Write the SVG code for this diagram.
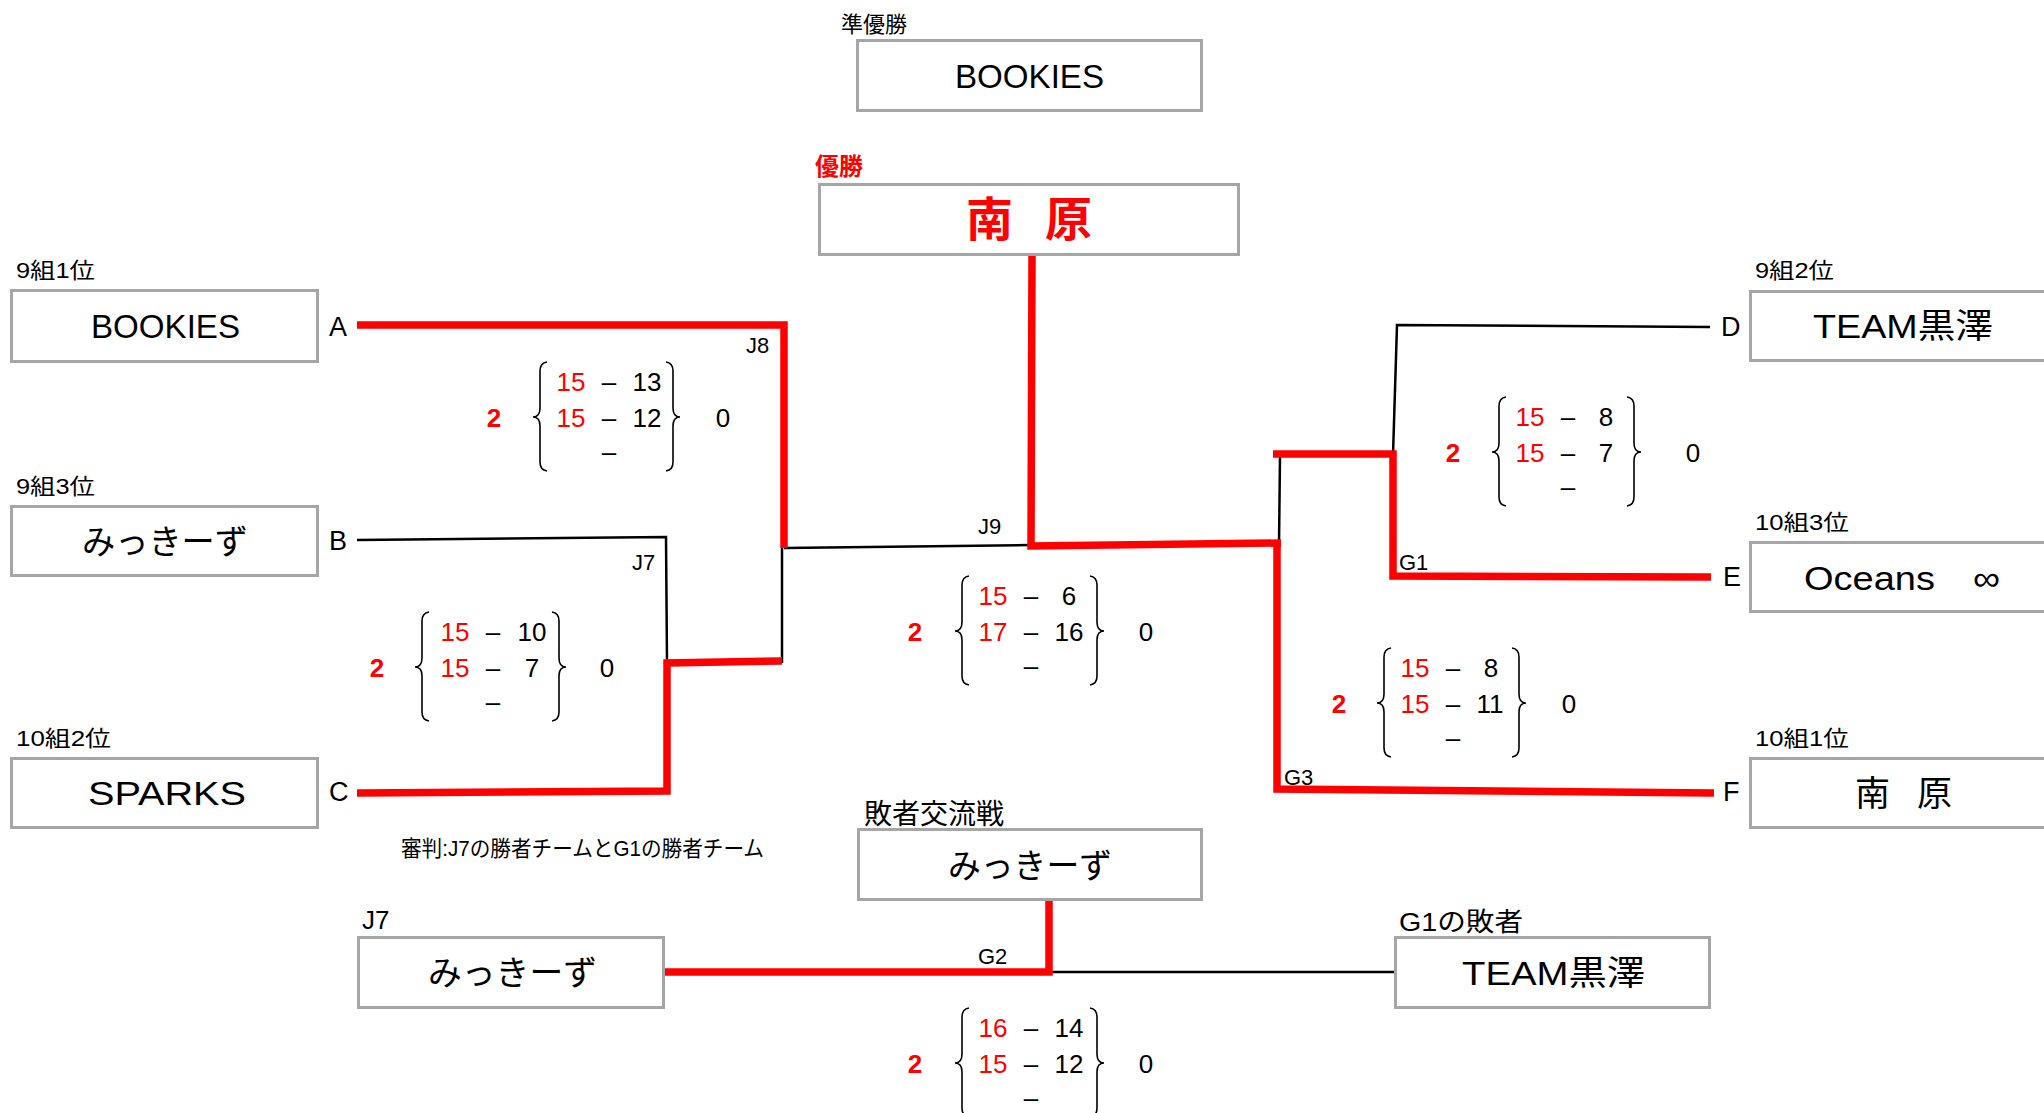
<svg xmlns="http://www.w3.org/2000/svg" xmlns:xlink="http://www.w3.org/1999/xlink" width="2044" height="1113" viewBox="0 0 2044 1113">
<style>
.box{fill:#fff;stroke:#a6a6a6;stroke-width:3}
.team{font-family:"Liberation Sans","Noto Sans CJK JP",sans-serif;font-size:34px;fill:#000}
.lab{font-family:"Liberation Sans","Noto Sans CJK JP",sans-serif;font-size:22px;fill:#000}
.let{font-family:"Liberation Sans",sans-serif;font-size:27px;fill:#000}
.blk{stroke:#000;stroke-width:2.5;fill:none}
.red{stroke:#ff0000;stroke-width:7.5;fill:none;stroke-linejoin:miter}
.sc{font-family:"Liberation Sans",sans-serif;font-size:26px;text-anchor:middle;fill:#000}
.sr{fill:#ff0000}
.win{font-family:"Liberation Sans",sans-serif;font-size:26px;font-weight:bold;text-anchor:middle;fill:#ff0000}
.br{stroke:#000;stroke-width:1.6;fill:none}
</style>
<defs>
<path id="braceL" class="br" d="M7,-65 Q0,-64 0,-56 L0,-19 Q0,-10 -7,-10 Q0,-10 0,-1 L0,35 Q0,43 7,44"/>
<path id="braceR" class="br" d="M-7,-65 Q0,-64 0,-56 L0,-19 Q0,-10 7,-10 Q0,-10 0,-1 L0,35 Q0,43 -7,44"/>
</defs>
<rect width="2044" height="1113" fill="#fff"/>

<g id="connectors">
<path class="blk" d="M357,540 L666,537 L667,662"/>
<path class="blk" d="M782,548 L782,663"/>
<path class="blk" d="M784,548 L1030,545"/>
<path class="blk" d="M1710,327 L1397,325 L1393,455"/>
<path class="blk" d="M1280,456 L1279,545"/>
<path class="blk" d="M1051,972 L1394,972"/>
<path class="red" d="M357,325 L784,325 L784,548"/>
<path class="red" d="M357,793 L667,791 L667,663 L782,661"/>
<path class="red" d="M1032,256 L1031,546 L1281,543"/>
<path class="red" d="M1277,543 L1277,789 L1714,793"/>
<path class="red" d="M1273,454 L1393,454 L1393,576 L1711,577"/>
<path class="red" d="M665,972 L1049,972 L1049,901"/>
</g>

<g id="runner-up">
<text class="lab" x="841" y="32">準優勝</text>
<rect class="box" x="857.5" y="40.5" width="344" height="70"/>
<text class="team" x="955" y="88" textLength="149" lengthAdjust="spacingAndGlyphs">BOOKIES</text>
</g>

<g id="champion">
<text x="815" y="175" font-family="Liberation Sans,Noto Sans CJK JP,sans-serif" font-size="24" font-weight="bold" fill="#ff0000">優勝</text>
<rect class="box" x="819.5" y="184.5" width="419" height="70"/>
<text x="966" y="236" font-family="Noto Sans CJK JP,sans-serif" font-size="47" font-weight="bold" fill="#ff0000" textLength="126" lengthAdjust="spacing">南　原</text>
</g>

<g id="team-A">
<text class="lab" x="16" y="278" textLength="79" lengthAdjust="spacingAndGlyphs">9組1位</text>
<rect class="box" x="11.5" y="290.5" width="306" height="71"/>
<text class="team" x="91" y="338" textLength="149" lengthAdjust="spacingAndGlyphs">BOOKIES</text>
<text class="let" x="329" y="336">A</text>
</g>

<g id="team-B">
<text class="lab" x="16" y="494" textLength="79" lengthAdjust="spacingAndGlyphs">9組3位</text>
<rect class="box" x="11.5" y="506.5" width="306" height="69"/>
<text class="team" x="82" y="554" textLength="166" lengthAdjust="spacingAndGlyphs">みっきーず</text>
<text class="let" x="329" y="550">B</text>
</g>

<g id="team-C">
<text class="lab" x="16" y="746" textLength="95" lengthAdjust="spacingAndGlyphs">10組2位</text>
<rect class="box" x="11.5" y="758.5" width="306" height="69"/>
<text class="team" x="88" y="805" textLength="158" lengthAdjust="spacingAndGlyphs">SPARKS</text>
<text class="let" x="329" y="801">C</text>
</g>

<g id="team-D">
<text class="lab" x="1755" y="278" textLength="79" lengthAdjust="spacingAndGlyphs">9組2位</text>
<rect class="box" x="1750.5" y="291.5" width="320" height="69"/>
<text class="team" x="1813" y="338" textLength="180" lengthAdjust="spacingAndGlyphs">TEAM黒澤</text>
<text class="let" x="1721" y="336">D</text>
</g>

<g id="team-E">
<text class="lab" x="1755" y="530" textLength="94" lengthAdjust="spacingAndGlyphs">10組3位</text>
<rect class="box" x="1750.5" y="542.5" width="320" height="69"/>
<text class="team" x="1804" y="590" textLength="196" lengthAdjust="spacingAndGlyphs">Oceans　∞</text>
<text class="let" x="1723" y="586">E</text>
</g>

<g id="team-F">
<text class="lab" x="1755" y="746" textLength="94" lengthAdjust="spacingAndGlyphs">10組1位</text>
<rect class="box" x="1750.5" y="758.5" width="320" height="69"/>
<text x="1855" y="806" font-family="Noto Sans CJK JP,sans-serif" font-size="35" fill="#000" textLength="97" lengthAdjust="spacing">南　原</text>
<text class="let" x="1723" y="801">F</text>
</g>

<g id="losers-winner">
<text x="864" y="824" font-family="Liberation Sans,Noto Sans CJK JP,sans-serif" font-size="28" fill="#000">敗者交流戦</text>
<rect class="box" x="858.5" y="829.5" width="343" height="70"/>
<text class="team" x="948" y="878" textLength="164" lengthAdjust="spacingAndGlyphs">みっきーず</text>
</g>

<g id="loser-J7">
<text x="362" y="929" font-family="Liberation Sans,sans-serif" font-size="26" fill="#000">J7</text>
<rect class="box" x="358.5" y="937.5" width="305" height="70"/>
<text class="team" x="428" y="985" textLength="169" lengthAdjust="spacingAndGlyphs">みっきーず</text>
</g>

<g id="loser-G1">
<text x="1399" y="931" font-family="Liberation Sans,Noto Sans CJK JP,sans-serif" font-size="26" fill="#000" textLength="124" lengthAdjust="spacingAndGlyphs">G1の敗者</text>
<rect class="box" x="1395.5" y="937.5" width="314" height="70"/>
<text class="team" x="1462" y="985" textLength="183" lengthAdjust="spacingAndGlyphs">TEAM黒澤</text>
</g>

<g id="match-labels">
<text class="lab" x="746" y="353">J8</text>
<text class="lab" x="632" y="570">J7</text>
<text class="lab" x="978" y="534" font-size="24">J9</text>
<text class="lab" x="1399" y="570" font-size="24">G1</text>
<text class="lab" x="1284" y="785" font-size="24">G3</text>
<text class="lab" x="978" y="964" font-size="24">G2</text>
<text class="lab" x="401" y="856" font-size="19" textLength="363" lengthAdjust="spacingAndGlyphs">審判:J7の勝者チームとG1の勝者チーム</text>
</g>

<g id="score-J8" transform="translate(540,427)">
<text class="win" x="-46" y="0">2</text>
<use xlink:href="#braceL" href="#braceL"/>
<text class="sc sr" x="31" y="-36">15</text><text class="sc" x="69" y="-36">–</text><text class="sc" x="107" y="-36">13</text>
<text class="sc sr" x="31" y="0">15</text><text class="sc" x="69" y="0">–</text><text class="sc" x="107" y="0">12</text>
<text class="sc" x="69" y="34">–</text>
<use xlink:href="#braceR" href="#braceR" x="133"/>
<text class="sc" x="183" y="0">0</text>
</g>

<g id="score-J7" transform="translate(422,677)">
<text class="win" x="-45" y="0">2</text>
<use xlink:href="#braceL" href="#braceL"/>
<text class="sc sr" x="33" y="-36">15</text><text class="sc" x="71" y="-36">–</text><text class="sc" x="110" y="-36">10</text>
<text class="sc sr" x="33" y="0">15</text><text class="sc" x="71" y="0">–</text><text class="sc" x="110" y="0">7</text>
<text class="sc" x="71" y="34">–</text>
<use xlink:href="#braceR" href="#braceR" x="137"/>
<text class="sc" x="185" y="0">0</text>
</g>

<g id="score-J9" transform="translate(962,641)">
<text class="win" x="-47" y="0">2</text>
<use xlink:href="#braceL" href="#braceL"/>
<text class="sc sr" x="31" y="-36">15</text><text class="sc" x="69" y="-36">–</text><text class="sc" x="107" y="-36">6</text>
<text class="sc sr" x="31" y="0">17</text><text class="sc" x="69" y="0">–</text><text class="sc" x="107" y="0">16</text>
<text class="sc" x="69" y="34">–</text>
<use xlink:href="#braceR" href="#braceR" x="135"/>
<text class="sc" x="184" y="0">0</text>
</g>

<g id="score-G1" transform="translate(1499,462)">
<text class="win" x="-46" y="0">2</text>
<use xlink:href="#braceL" href="#braceL"/>
<text class="sc sr" x="31" y="-36">15</text><text class="sc" x="69" y="-36">–</text><text class="sc" x="107" y="-36">8</text>
<text class="sc sr" x="31" y="0">15</text><text class="sc" x="69" y="0">–</text><text class="sc" x="107" y="0">7</text>
<text class="sc" x="69" y="34">–</text>
<use xlink:href="#braceR" href="#braceR" x="135"/>
<text class="sc" x="194" y="0">0</text>
</g>

<g id="score-G3" transform="translate(1384,713)">
<text class="win" x="-45" y="0">2</text>
<use xlink:href="#braceL" href="#braceL"/>
<text class="sc sr" x="31" y="-36">15</text><text class="sc" x="69" y="-36">–</text><text class="sc" x="107" y="-36">8</text>
<text class="sc sr" x="31" y="0">15</text><text class="sc" x="69" y="0">–</text><text class="sc" x="106" y="0">11</text>
<text class="sc" x="69" y="34">–</text>
<use xlink:href="#braceR" href="#braceR" x="135"/>
<text class="sc" x="185" y="0">0</text>
</g>

<g id="score-G2" transform="translate(962,1073)">
<text class="win" x="-47" y="0">2</text>
<use xlink:href="#braceL" href="#braceL"/>
<text class="sc sr" x="31" y="-36">16</text><text class="sc" x="69" y="-36">–</text><text class="sc" x="107" y="-36">14</text>
<text class="sc sr" x="31" y="0">15</text><text class="sc" x="69" y="0">–</text><text class="sc" x="107" y="0">12</text>
<text class="sc" x="69" y="34">–</text>
<use xlink:href="#braceR" href="#braceR" x="135"/>
<text class="sc" x="184" y="0">0</text>
</g>
</svg>
